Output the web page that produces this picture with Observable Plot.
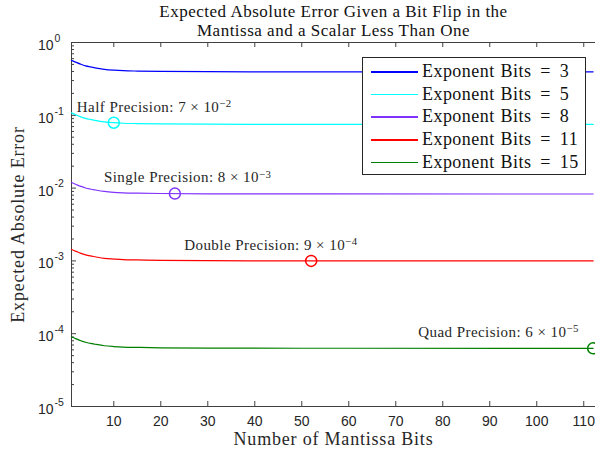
<!DOCTYPE html>
<html><head><meta charset="utf-8">
<script src="https://cdn.jsdelivr.net/npm/d3@7"></script>
<script src="https://cdn.jsdelivr.net/npm/@observablehq/plot@0.6"></script>
<style>
body{margin:0;background:#fff;}
#wrap{position:relative;width:595px;height:460px;overflow:hidden;}
#legend{position:absolute;left:362px;top:57px;width:224px;height:118px;border:1px solid #262626;background:#fff;box-sizing:border-box;font-family:"Liberation Serif",serif;font-size:18px;letter-spacing:0.45px;word-spacing:1px;color:#111;}
#legend .row{position:absolute;left:0;height:20px;line-height:20px;white-space:nowrap;}
#legend .sw{position:absolute;left:8px;top:10px;width:47px;height:1.6px;}
#legend .lb{position:absolute;left:59px;top:0;}
#legend .eq{margin:0 3px;}
</style></head><body><div id="wrap"></div>
<script>
// ---- data ----
const mantissaBits = [1, 2, 3, 4, 5, 6, 8, 10, 12, 15, 20, 30, 50, 112];
const exponentBits = [3, 5, 8, 11, 15];
const err3  = [0.569, 0.533, 0.502, 0.478, 0.462, 0.448, 0.428, 0.417, 0.410, 0.405, 0.401, 0.397, 0.395, 0.395];
const err5  = [0.108, 0.101, 0.0953, 0.0908, 0.0878, 0.0853, 0.0813, 0.0791, 0.0778, 0.0770, 0.0762, 0.0755, 0.0751, 0.075];
const err8  = [0.01195, 0.0112, 0.01054, 0.01004, 0.00971, 0.00944, 0.00899, 0.00875, 0.00862, 0.00852, 0.00843, 0.00835, 0.00831, 0.0083];
const err11 = [0.00144, 0.00135, 0.00127, 0.00121, 0.00117, 0.00114, 0.001085, 0.00106, 0.00104, 0.00103, 0.001015, 0.001006, 0.001001, 0.001];
const err15 = [9.07e-5, 8.5e-5, 8.0e-5, 7.62e-5, 7.37e-5, 7.17e-5, 6.83e-5, 6.66e-5, 6.55e-5, 6.48e-5, 6.4e-5, 6.34e-5, 6.31e-5, 6.3e-5];
const seriesColors = ["#0000ff", "#00ffff", "#8033ff", "#ff0000", "#008000"];

const markerBits = [10, 23, 52, 112];
const markerExp = [5, 8, 11, 15];
const markerErr = [0.0791, 0.0084, 0.001, 6.3e-5];
const markerLabels = [
  "Half Precision: 7 × 10^{−2}",
  "Single Precision: 8 × 10^{−3}",
  "Double Precision: 9 × 10^{−4}",
  "Quad Precision: 6 × 10^{−5}"
];
const xTicks = [10, 20, 30, 40, 50, 60, 70, 80, 90, 100, 110];
const yTicks = [1, 1e-1, 1e-2, 1e-3, 1e-4, 1e-5];
const yTickExp = ["0", "-1", "-2", "-3", "-4", "-5"];
const titleLines = ["Expected Absolute Error Given a Bit Flip in the", "Mantissa and a Scalar Less Than One"];
const xLabel = "Number of Mantissa Bits";
const yLabel = "Expected Absolute Error";

// ---- build tables ----
const allErr = [err3, err5, err8, err11, err15];
const lines = [];
exponentBits.forEach((e, i) => mantissaBits.forEach((m, j) => lines.push({m, e, v: allErr[i][j]})));
const markers = markerBits.map((m, i) => ({m, e: markerExp[i], v: markerErr[i], label: markerLabels[i]}));
const yMinor = [];
for (let k = -5; k < 0; k++) for (let d = 2; d <= 9; d++) yMinor.push(d * Math.pow(10, k));

const W = 595, H = 460, mL = 71, mR = 0, mT = 42, mB = 54;
const plotW = W - mL - mR, plotH = H - mT - mB;
const serif = "Liberation Serif, Times New Roman, serif";
const sans = "Liberation Sans, Arial, sans-serif";
const axisColor = "#404040";
const labelDx = [-37, -71, -127, -175];

const marks = [
  Plot.ruleX([1], {stroke: axisColor}),
  Plot.ruleY([1], {stroke: axisColor}),
  Plot.ruleY([1e-5], {stroke: axisColor}),
  Plot.ruleX(xTicks, {stroke: axisColor, insetTop: plotH - 5}),
  Plot.ruleX(xTicks, {stroke: axisColor, insetBottom: plotH - 5}),
  Plot.ruleY(yTicks, {stroke: axisColor, insetRight: plotW - 5}),
  Plot.ruleY(yMinor, {stroke: axisColor, insetRight: plotW - 3}),
  Plot.text(xTicks, {x: d => d, frameAnchor: "bottom", dy: 19, text: d => String(d), fontFamily: sans, fontSize: 14, fill: "#262626"}),
  Plot.text(yTicks, {y: d => d, frameAnchor: "left", dx: -18, dy: 3, textAnchor: "end", text: () => "10", fontFamily: sans, fontSize: 14, fill: "#262626"}),
  Plot.text(yTicks, {y: d => d, frameAnchor: "left", dx: -17, dy: -4, textAnchor: "start", text: (d, i) => yTickExp[i], fontFamily: sans, fontSize: 10.5, fill: "#262626"}),
  Plot.line(lines, {x: "m", y: "v", z: "e", stroke: "e", curve: "monotone-x", strokeWidth: 1.2}),
  Plot.dot(markers, {x: "m", y: "v", stroke: "e", r: 5.5, fill: "none", strokeWidth: 1.5}),
  ...markers.map((d, i) => Plot.text([d], {x: "m", y: "v", text: "label", dx: labelDx[i], dy: -16, textAnchor: "start", fontFamily: serif, fontSize: 15, fill: "#262626"})),
  Plot.text([titleLines[0]], {frameAnchor: "top", dy: -38, text: d => d, fontFamily: serif, fontSize: 17, fill: "#111"}),
  Plot.text([titleLines[1]], {frameAnchor: "top", dy: -19, text: d => d, fontFamily: serif, fontSize: 17, fill: "#111"}),
  Plot.text([xLabel], {frameAnchor: "bottom", dy: 38, text: d => d, fontFamily: serif, fontSize: 18, fill: "#262626"}),
  Plot.text([yLabel], {frameAnchor: "left", dx: -53, rotate: -90, textAnchor: "middle", text: d => d, fontFamily: serif, fontSize: 18, fill: "#262626"})
];

const chart = Plot.plot({
  width: W, height: H,
  marginLeft: mL, marginRight: mR, marginTop: mT, marginBottom: mB,
  x: {domain: [1, 112.5], axis: null},
  y: {type: "log", domain: [1e-5, 1], axis: null},
  color: {domain: exponentBits, range: seriesColors},
  style: {background: "#fff", overflow: "visible"},
  marks
});

// widen the serif text toward the LaTeX look
const spacing = {"15": "0.45px", "17": "0.5px", "18": "0.8px"};
chart.querySelectorAll("g[font-family]").forEach(g => {
  if (!g.getAttribute("font-family").startsWith("Liberation Serif")) return;
  const ls = spacing[g.getAttribute("font-size")];
  if (ls) g.setAttribute("letter-spacing", ls);
});

// superscripts written as ^{...}
chart.querySelectorAll("text").forEach(t => {
  const s = t.textContent;
  const m = s.match(/^(.*)\^\{(.*)\}$/);
  if (!m) return;
  t.textContent = "";
  const a = document.createElementNS("http://www.w3.org/2000/svg", "tspan");
  a.textContent = m[1];
  const b = document.createElementNS("http://www.w3.org/2000/svg", "tspan");
  b.textContent = m[2];
  b.setAttribute("dy", "-0.45em");
  b.setAttribute("font-size", "0.72em");
  t.appendChild(a); t.appendChild(b);
});

const wrap = document.getElementById("wrap");
wrap.appendChild(chart);

const legend = document.createElement("div");
legend.id = "legend";
exponentBits.forEach((e, i) => {
  const row = document.createElement("div");
  row.className = "row";
  row.style.top = (3 + i * 22.7) + "px";
  row.innerHTML = `<span class="sw" style="background:${seriesColors[i]}"></span><span class="lb">Exponent Bits <span class="eq">=</span> ${e}</span>`;
  legend.appendChild(row);
});
wrap.appendChild(legend);
</script></body></html>
